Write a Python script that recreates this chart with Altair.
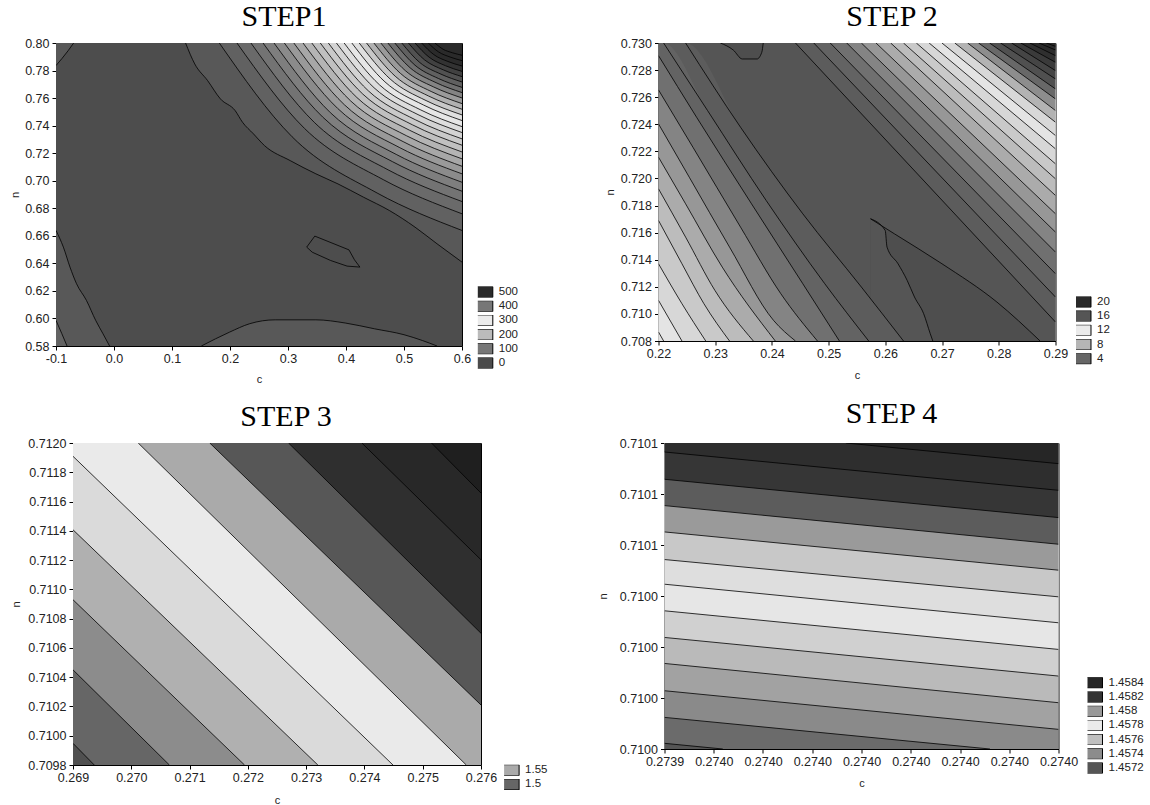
import altair as alt
import pandas as pd

SANS = "Liberation Sans"
SERIF = "Liberation Serif"
RECT = "M-1.636,-1L1.636,-1L1.636,1L-1.636,1Z"

# ---------------- STEP 1 ----------------
S1_C = [-0.1, 0.6]
S1_N = [0.58, 0.80]
S1_CTICKS = [-0.1, 0.0, 0.1, 0.2, 0.3, 0.4, 0.5, 0.6]
S1_NTICKS = [0.58, 0.60, 0.62, 0.64, 0.66, 0.68, 0.70, 0.72, 0.74, 0.76, 0.78, 0.80]
S1_STOPS = [0, 100, 200, 300, 400, 500]
S1_SHADES = ["#4b4b4b", "#777777", "#bbbbbb", "#ebebeb", "#777777", "#2a2a2a"]
S1_LEG_LABELS = ["500", "400", "300", "200", "100", "0"]
S1_LEG_SHADES = ["#2a2a2a", "#777777", "#ebebeb", "#bbbbbb", "#777777", "#4b4b4b"]
S1_BASE = 5
S1_MAIN = [(0.1234, 0.800), (0.1392, 0.7848), (0.1614, 0.7727), (0.1835, 0.7594),
           (0.2089, 0.7509), (0.2215, 0.7425), (0.2405, 0.7340), (0.2595, 0.7255),
           (0.3038, 0.7146), (0.3481, 0.7050), (0.3861, 0.6977), (0.4304, 0.6880),
           (0.4747, 0.6784), (0.5190, 0.6663), (0.5570, 0.6542), (0.6000, 0.6409)]
S1_ARCS = [
    [(0.1816, 0.80), (0.3071, 0.7319), (0.4536, 0.6911), (0.60, 0.6639)],
    [(0.2120, 0.80), (0.3284, 0.7380), (0.4642, 0.7008), (0.60, 0.6760)],
    [(0.2361, 0.80), (0.3453, 0.7424), (0.4726, 0.7079), (0.60, 0.6849)],
    [(0.2570, 0.80), (0.3599, 0.7462), (0.4799, 0.7139), (0.60, 0.6924)],
    [(0.2759, 0.80), (0.3731, 0.7494), (0.4866, 0.7191), (0.60, 0.6989)],
    [(0.2937, 0.80), (0.3856, 0.7525), (0.4928, 0.7240), (0.60, 0.7050)],
    [(0.3101, 0.80), (0.3971, 0.7552), (0.4985, 0.7284), (0.60, 0.7105)],
    [(0.3259, 0.80), (0.4081, 0.7579), (0.5041, 0.7327), (0.60, 0.7159)],
    [(0.3411, 0.80), (0.4188, 0.7604), (0.5094, 0.7367), (0.60, 0.7209)],
    [(0.3557, 0.80), (0.4290, 0.7629), (0.5145, 0.7406), (0.60, 0.7258)],
    [(0.3696, 0.80), (0.4387, 0.7652), (0.5194, 0.7443), (0.60, 0.7304)],
    [(0.3835, 0.80), (0.4484, 0.7675), (0.5242, 0.7480), (0.60, 0.7350)],
    [(0.3968, 0.80), (0.4578, 0.7696), (0.5289, 0.7514), (0.60, 0.7393)],
    [(0.4101, 0.80), (0.4671, 0.7718), (0.5335, 0.7550), (0.60, 0.7437)],
    [(0.4228, 0.80), (0.4760, 0.7739), (0.5380, 0.7582), (0.60, 0.7478)],
    [(0.4354, 0.80), (0.4848, 0.7759), (0.5424, 0.7615), (0.60, 0.7519)],
    [(0.4481, 0.80), (0.4937, 0.7780), (0.5468, 0.7648), (0.60, 0.7560)],
    [(0.4601, 0.80), (0.5021, 0.7800), (0.5510, 0.7681), (0.60, 0.7601)],
    [(0.4722, 0.80), (0.5105, 0.7820), (0.5553, 0.7712), (0.60, 0.7640)],
    [(0.4842, 0.80), (0.5189, 0.7839), (0.5595, 0.7742), (0.60, 0.7678)],
    [(0.4962, 0.80), (0.5273, 0.7858), (0.5637, 0.7774), (0.60, 0.7717)],
    [(0.5076, 0.80), (0.5353, 0.7878), (0.5677, 0.7805), (0.60, 0.7756)],
    [(0.5190, 0.80), (0.5433, 0.7897), (0.5716, 0.7835), (0.60, 0.7794)],
    [(0.5304, 0.80), (0.5513, 0.7916), (0.5756, 0.7866), (0.60, 0.7833)],
    [(0.5418, 0.80), (0.5593, 0.7936), (0.5796, 0.7898), (0.60, 0.7872)],
    [(0.5532, 0.80), (0.5672, 0.7955), (0.5836, 0.7929), (0.60, 0.7911)],
]
S1_ARC_VALUES = [50, 70, 90, 110, 130, 150, 170, 190, 210, 230, 250, 270, 290,
                 310, 330, 350, 370, 390, 410, 430, 450, 470, 490, 510, 530, 550]
S1_TOPLEFT = [(-0.1, 0.7836), (-0.0791, 0.7944), (-0.0696, 0.80)]
S1_LEFT = [(-0.1, 0.6639), (-0.0873, 0.6518), (-0.0759, 0.6373), (-0.0646, 0.6252),
           (-0.0475, 0.6131), (-0.0316, 0.5986), (-0.0190, 0.5889), (-0.0076, 0.58)]
S1_CORNER = [(-0.1, 0.5986), (-0.09, 0.589), (-0.081, 0.58)]
S1_BOTTOM = [(0.1506, 0.58), (0.1994, 0.5901), (0.234, 0.5962), (0.278, 0.599),
             (0.348, 0.599), (0.3987, 0.5967), (0.449, 0.5925), (0.5, 0.5882),
             (0.5316, 0.584), (0.557, 0.58)]
S1_LOOP = [(0.3323, 0.6518), (0.3462, 0.6598), (0.4051, 0.6498), (0.4146, 0.6426),
           (0.424, 0.6373), (0.4019, 0.638), (0.3734, 0.6421), (0.3418, 0.6481),
           (0.3323, 0.6518)]

# ---------------- STEP 2 ----------------
S2_C = [0.22, 0.29]
S2_N = [0.708, 0.730]
S2_CTICKS = [0.22, 0.23, 0.24, 0.25, 0.26, 0.27, 0.28, 0.29]
S2_NTICKS = [0.708, 0.710, 0.712, 0.714, 0.716, 0.718, 0.720, 0.722, 0.724, 0.726, 0.728, 0.730]
S2_STOPS = [0, 4, 8, 12, 16, 20]
S2_SHADES = ["#4a4a4a", "#666666", "#b5b5b5", "#ebebeb", "#555555", "#2a2a2a"]
S2_LEG_LABELS = ["20", "16", "12", "8", "4"]
S2_LEG_SHADES = ["#2a2a2a", "#555555", "#ebebeb", "#b5b5b5", "#666666"]
S2_BASE = 1.5
S2_BLOB = [(0.230913, 0.730), (0.233173, 0.729484), (0.234788, 0.728820),
           (0.237371, 0.728820), (0.238210, 0.729312), (0.238468, 0.730)]
S2_WEDGE_R = [(0.257389, 0.717022), (0.261586, 0.715916), (0.269981, 0.713703),
              (0.279667, 0.710876), (0.287287, 0.708)]
S2_WEDGE_L = [(0.257389, 0.717022), (0.259972, 0.716161), (0.260295, 0.714932),
              (0.262232, 0.713703), (0.263846, 0.712474), (0.265138, 0.711245),
              (0.266752, 0.710016), (0.267914, 0.708541), (0.268366, 0.708)]
S2_LEFT = [
    [(0.224779, 0.730), (0.234465, 0.723781), (0.245443, 0.717390), (0.255774, 0.711982), (0.263200, 0.708)],
    [(0.220904, 0.730), (0.228653, 0.725010), (0.238985, 0.718373), (0.249317, 0.712228), (0.257066, 0.708)],
    [(0.22, 0.729066), (0.226716, 0.724518), (0.236402, 0.718127), (0.245443, 0.712228), (0.251900, 0.708)],
    [(0.22, 0.726534), (0.226070, 0.722306), (0.234465, 0.716407), (0.241568, 0.711491), (0.248026, 0.708)],
    [(0.22, 0.724027), (0.225424, 0.720094), (0.232527, 0.714932), (0.240276, 0.709524), (0.244151, 0.708)],
    [(0.22, 0.721569), (0.224779, 0.718127), (0.231236, 0.713457), (0.240599, 0.708)],
    [(0.22, 0.719234), (0.224779, 0.715669), (0.229944, 0.711736), (0.236725, 0.708)],
    [(0.22, 0.716898), (0.224133, 0.713703), (0.228007, 0.710753), (0.232527, 0.708)],
    [(0.22, 0.713703), (0.224133, 0.710753), (0.228330, 0.708)],
    [(0.22, 0.710999), (0.224133, 0.708)],
    [(0.22, 0.708664), (0.220904, 0.708)],
]
S2_LEFT_VALUES = [2.5, 3.5, 4.5, 5.5, 6.5, 7.5, 8.5, 9.5, 10.5, 11.5, 12.3]
S2_RIGHT = [
    [(0.244151, 0.730), (0.29, 0.709401)],
    [(0.247380, 0.730), (0.29, 0.711245)],
    [(0.250286, 0.730), (0.29, 0.712965)],
    [(0.253191, 0.730), (0.29, 0.714563)],
    [(0.255774, 0.730), (0.29, 0.716038)],
    [(0.258357, 0.730), (0.29, 0.717390)],
    [(0.260940, 0.730), (0.29, 0.718742)],
    [(0.263200, 0.730), (0.29, 0.719971)],
    [(0.265460, 0.730), (0.29, 0.721077)],
    [(0.267720, 0.730), (0.29, 0.722183)],
    [(0.269981, 0.730), (0.29, 0.723166)],
    [(0.272241, 0.730), (0.29, 0.724150)],
    [(0.274501, 0.730), (0.29, 0.725010)],
    [(0.276438, 0.730), (0.29, 0.725870)],
    [(0.278375, 0.730), (0.29, 0.726608)],
    [(0.280313, 0.730), (0.29, 0.727345)],
    [(0.282250, 0.730), (0.29, 0.727960)],
    [(0.283864, 0.730), (0.29, 0.728574)],
    [(0.285479, 0.730), (0.29, 0.729066)],
    [(0.287093, 0.730), (0.29, 0.729484)],
    [(0.288384, 0.730), (0.29, 0.729754)],
]
S2_RIGHT_VALUES = [2.5, 3.5, 4.5, 5.5, 6.5, 7.5, 8.5, 9.5, 10.5, 11.5, 12.5, 13.5,
                   14.5, 15.5, 16.5, 17.5, 18.5, 19.5, 20.5, 21.5, 22.5]

# ---------------- STEP 3 ----------------
S3_C = [0.269, 0.276]
S3_N = [0.7098, 0.7120]
S3_CTICKS = [0.269, 0.270, 0.271, 0.272, 0.273, 0.274, 0.275, 0.276]
S3_NTICKS = [0.7098, 0.7100, 0.7102, 0.7104, 0.7106, 0.7108, 0.7110, 0.7112,
             0.7114, 0.7116, 0.7118, 0.7120]
S3_STOPS = [1.49, 1.50, 1.51, 1.52, 1.53, 1.54, 1.55, 1.56, 1.57, 1.58, 1.59]
S3_SHADES = ["#505050", "#666666", "#8c8c8c", "#b0b0b0", "#dadada", "#eaeaea",
             "#aaaaaa", "#575757", "#2f2f2f", "#282828", "#1f1f1f"]
S3_LEG_LABELS = ["1.55", "1.5"]
S3_LEG_SHADES = ["#aaaaaa", "#666666"]
S3_BASE = 1.49
S3_LINES = [
    [(0.269, 0.709948), (0.269365, 0.7098)],
    [(0.269, 0.710450), (0.270654, 0.7098)],
    [(0.269, 0.710929), (0.271943, 0.7098)],
    [(0.269, 0.711407), (0.273201, 0.7098)],
    [(0.269, 0.711909), (0.274490, 0.7098)],
    [(0.270119, 0.7120), (0.275748, 0.7098)],
    [(0.271346, 0.7120), (0.276, 0.710210)],
    [(0.272698, 0.7120), (0.276, 0.710700)],
    [(0.273956, 0.7120), (0.276, 0.711202)],
    [(0.275151, 0.7120), (0.276, 0.711658)],
]
S3_VALUES = [1.50, 1.51, 1.52, 1.53, 1.54, 1.55, 1.56, 1.57, 1.58, 1.59]

# ---------------- STEP 4 ----------------
S4_C = [0.273946, 0.274010]
S4_N = [0.710020, 0.710068]
S4_CTICKS = [0.273946, 0.273954, 0.273962, 0.273970, 0.273978, 0.273986,
             0.273994, 0.274002, 0.274010]
S4_NTICKS = [0.710020, 0.710028, 0.710036, 0.710044, 0.710052, 0.710060, 0.710068]
S4_STOPS = [1.4572, 1.4573, 1.4574, 1.4575, 1.4576, 1.4577, 1.4578, 1.4579,
            1.4580, 1.4581, 1.4582, 1.4583, 1.4584, 1.4585]
S4_SHADES = ["#555555", "#6b6b6b", "#8a8a8a", "#a2a2a2", "#bababa", "#d0d0d0",
             "#e6e6e6", "#dedede", "#c8c8c8", "#9a9a9a", "#5c5c5c", "#363636",
             "#2e2e2e", "#262626"]
S4_LEG_LABELS = ["1.4584", "1.4582", "1.458", "1.4578", "1.4576", "1.4574", "1.4572"]
S4_LEG_SHADES = ["#262626", "#333333", "#999999", "#ebebeb", "#c0c0c0", "#8c8c8c", "#555555"]
S4_BASE = 1.4572
S4_LINES = [
    [(0.273946, 0.71002089), (0.27395547, 0.710020)],
    [(0.273946, 0.71002496), (0.27399887, 0.710020)],
    [(0.273946, 0.71002914), (0.274010, 0.71002308)],
    [(0.273946, 0.71003342), (0.274010, 0.71002726)],
    [(0.273946, 0.71003750), (0.274010, 0.71003144)],
    [(0.273946, 0.71004168), (0.274010, 0.71003562)],
    [(0.273946, 0.71004585), (0.274010, 0.71003980)],
    [(0.273946, 0.71004972), (0.274010, 0.71004387)],
    [(0.273946, 0.71005405), (0.274010, 0.71004805)],
    [(0.273946, 0.71005818), (0.274010, 0.71005212)],
    [(0.273946, 0.71006231), (0.274010, 0.71005630)],
    [(0.273946, 0.71006659), (0.274010, 0.71006058)],
    [(0.27397547, 0.710068), (0.274010, 0.71006476)],
]
S4_VALUES = [1.4573, 1.4574, 1.4575, 1.4576, 1.4577, 1.4578, 1.4579, 1.4580,
             1.4581, 1.4582, 1.4583, 1.4584, 1.4585]


def contour(value, fill, pts, lead=None, tail=None, draw=True):
    return dict(value=value, fill=fill, pts=pts, lead=lead, tail=tail, draw=draw)


def build_panel(title, dx, crange, nrange, cticks, nticks, cfmt, nfmt,
                stops, shades, base, contours, loops, leg_labels, leg_shades,
                width, height, legx, legy, ytx, xty, interp="monotone",
                clabel_expr=None, title_offset=5):
    corners = {"tl": (crange[0], nrange[1]), "tr": (crange[1], nrange[1]),
               "bl": (crange[0], nrange[0]), "br": (crange[1], nrange[0])}
    area_rows = [dict(band="B000", val=base, c=crange[0], n=nrange[1], n2=nrange[0]),
                 dict(band="B000", val=base, c=crange[1], n=nrange[1], n2=nrange[0])]
    line_rows = []
    for k, ct in enumerate(contours, start=1):
        edge = nrange[1] if ct["fill"] == "top" else nrange[0]
        seq = ([corners[ct["lead"]]] if ct["lead"] else []) + list(ct["pts"]) + \
              ([corners[ct["tail"]]] if ct["tail"] else [])
        for c, n in seq:
            area_rows.append(dict(band=f"B{k:03d}", val=ct["value"], c=c, n=n, n2=edge))
        if ct["draw"]:
            for i, (c, n) in enumerate(ct["pts"]):
                line_rows.append(dict(line=f"L{k:03d}", idx=i, c=c, n=n))
    loop_rows = []
    for j, lp in enumerate(loops):
        for i, (c, n) in enumerate(lp):
            loop_rows.append(dict(loop=f"P{j}", idx=i, c=c, n=n))
    leg_rows = [dict(lab=l, c=crange[0], n=nrange[0]) for l in leg_labels]

    xaxis_kw = dict(values=cticks, format=cfmt, title="c", titleFont=SANS, titleFontSize=11,
                    titleFontWeight="normal", titleColor="#222", titleY=xty, titleBaseline="middle",
                    labelFont=SANS, labelFontSize=12.5, labelColor="#222", labelPadding=2,
                    tickSize=4, tickColor="#000", domain=False, grid=False,
                    labelOverlap=False, labelFlush=False)
    if clabel_expr:
        xaxis_kw["labelExpr"] = clabel_expr
    xenc = alt.X("c:Q", scale=alt.Scale(domain=crange, nice=False, zero=False),
                 axis=alt.Axis(**xaxis_kw))
    yenc = alt.Y("n:Q", scale=alt.Scale(domain=nrange, nice=False, zero=False), stack=None,
                 axis=alt.Axis(values=nticks, format=nfmt, title="n", titleFont=SANS,
                               titleFontSize=11, titleFontWeight="normal", titleColor="#222",
                               titleX=ytx, titleY=height / 2, titleBaseline="middle",
                               labelFont=SANS, labelFontSize=12.5, labelColor="#222",
                               labelPadding=3, tickSize=4, tickColor="#000", domain=False,
                               grid=False, labelOverlap=False, labelFlush=False))

    areas = alt.Chart(pd.DataFrame(area_rows)).mark_area(
        interpolate=interp, clip=True, strokeWidth=0).encode(
        x=xenc, y=yenc, y2=alt.Y2("n2:Q"),
        color=alt.Color("val:Q", scale=alt.Scale(domain=stops, range=shades, clamp=True,
                                                  interpolate="rgb"), legend=None),
        detail="band:N")
    layers = [areas]
    if line_rows:
        layers.append(alt.Chart(pd.DataFrame(line_rows)).mark_line(
            color="#000", strokeWidth=0.8, interpolate=interp, clip=True).encode(
            x=xenc, y=yenc, detail="line:N", order="idx:Q"))
    if loop_rows:
        layers.append(alt.Chart(pd.DataFrame(loop_rows)).mark_line(
            color="#000", strokeWidth=0.8, interpolate="linear", clip=True).encode(
            x=xenc, y=yenc, detail="loop:N", order="idx:Q"))
    leg = alt.Legend(title=None, orient="none", legendX=legx, legendY=legy,
                     symbolType=RECT, symbolSize=121, symbolStrokeColor="#000",
                     symbolStrokeWidth=1, symbolOpacity=1, labelFont=SANS, labelFontSize=11.5,
                     labelColor="#222", labelOffset=9, clipHeight=11, rowPadding=2.2,
                     padding=0)
    layers.append(alt.Chart(pd.DataFrame(leg_rows)).mark_square(opacity=0).encode(
        x=xenc, y=yenc,
        color=alt.Color("lab:N", scale=alt.Scale(domain=leg_labels, range=leg_shades),
                        legend=leg)))
    return alt.layer(*layers).resolve_scale(color="independent").properties(
        width=width, height=height,
        title=alt.TitleParams(text=title, font=SERIF, fontSize=30, fontWeight="normal",
                              color="#000", dx=dx, offset=title_offset, frame="group",
                              anchor="middle", baseline="top"))


def spacer(w):
    return alt.Chart(pd.DataFrame({"s": [0, 1]})).mark_point(size=0, opacity=0).encode(
        x=alt.X("s:Q", axis=None), y=alt.Y("s:Q", axis=None)).properties(
        width=w, height=10, view=alt.ViewBackground(stroke="transparent"))


# ---- assemble contours ----
s1 = [contour(30, "top", S1_TOPLEFT), contour(30, "bottom", S1_LEFT),
      contour(55, "bottom", S1_CORNER), contour(30, "bottom", S1_BOTTOM),
      contour(30, "top", S1_MAIN)]
s1 += [contour(v, "top", a) for v, a in zip(S1_ARC_VALUES, S1_ARCS)]

s2 = [contour(0.5, "top", S2_BLOB), contour(0.5, "bottom", S2_WEDGE_R),
      contour(1.5, "bottom", S2_WEDGE_L)]
s2 += [contour(v, "bottom", p, lead=("tl" if p[0][0] > 0.22 else None))
       for v, p in zip(S2_LEFT_VALUES, S2_LEFT)]
s2 += [contour(v, "top", p, tail=("br" if p[-1][0] < 0.29 else None))
       for v, p in zip(S2_RIGHT_VALUES, S2_RIGHT)]

s3 = [contour(v, "top", p, tail=("br" if p[-1][0] < 0.276 else None))
      for v, p in zip(S3_VALUES, S3_LINES)]
s4 = [contour(v, "top", p, tail=("br" if p[-1][0] < 0.27401 else None))
      for v, p in zip(S4_VALUES, S4_LINES)]

p1 = build_panel("STEP1", 25, S1_C, S1_N, S1_CTICKS, S1_NTICKS, ".1f", ".2f",
                 S1_STOPS, S1_SHADES, S1_BASE, s1, [S1_LOOP], S1_LEG_LABELS, S1_LEG_SHADES,
                 406, 303, 421.8, 243.5, -40.2, 33.3,
                 clabel_expr="replace(format(datum.value, '.1f'), '\u2212', '-')")
p2 = build_panel("STEP 2", 35, S2_C, S2_N, S2_CTICKS, S2_NTICKS, ".2f", ".3f",
                 S2_STOPS, S2_SHADES, S2_BASE, s2, [], S2_LEG_LABELS, S2_LEG_SHADES,
                 397, 298, 417.5, 253.4, -48.1, 34.3)
p3 = build_panel("STEP 3", 9, S3_C, S3_N, S3_CTICKS, S3_NTICKS, ".3f", ".4f",
                 S3_STOPS, S3_SHADES, S3_BASE, s3, [], S3_LEG_LABELS, S3_LEG_SHADES,
                 408, 322, 431.1, 321.7, -56.6, 35.3, interp="linear")
p4 = build_panel("STEP 4", 30, S4_C, S4_N, S4_CTICKS, S4_NTICKS, ".4f", ".4f",
                 S4_STOPS, S4_SHADES, S4_BASE, s4, [], S4_LEG_LABELS, S4_LEG_SHADES,
                 394, 306, 423, 234.3, -61.1, 34.5, interp="linear", title_offset=7.7)

IND = dict(x="independent", y="independent", color="independent")
row1 = alt.hconcat(spacer(7.5), alt.hconcat(p1, p2, spacing=83.5).resolve_scale(**IND),
                   spacing=0).resolve_scale(**IND)
row2 = alt.hconcat(spacer(7.5), alt.hconcat(p3, p4, spacing=47.5).resolve_scale(**IND),
                   spacing=0).resolve_scale(**IND)

chart = alt.vconcat(row1, row2, spacing=13).resolve_scale(**IND).properties(
    padding={"left": 0, "top": 1, "right": 0, "bottom": 0}, background="white"
).configure_view(stroke="#000", strokeWidth=1)

chart.save("out.html", embed_options={"renderer": "svg", "actions": False})
